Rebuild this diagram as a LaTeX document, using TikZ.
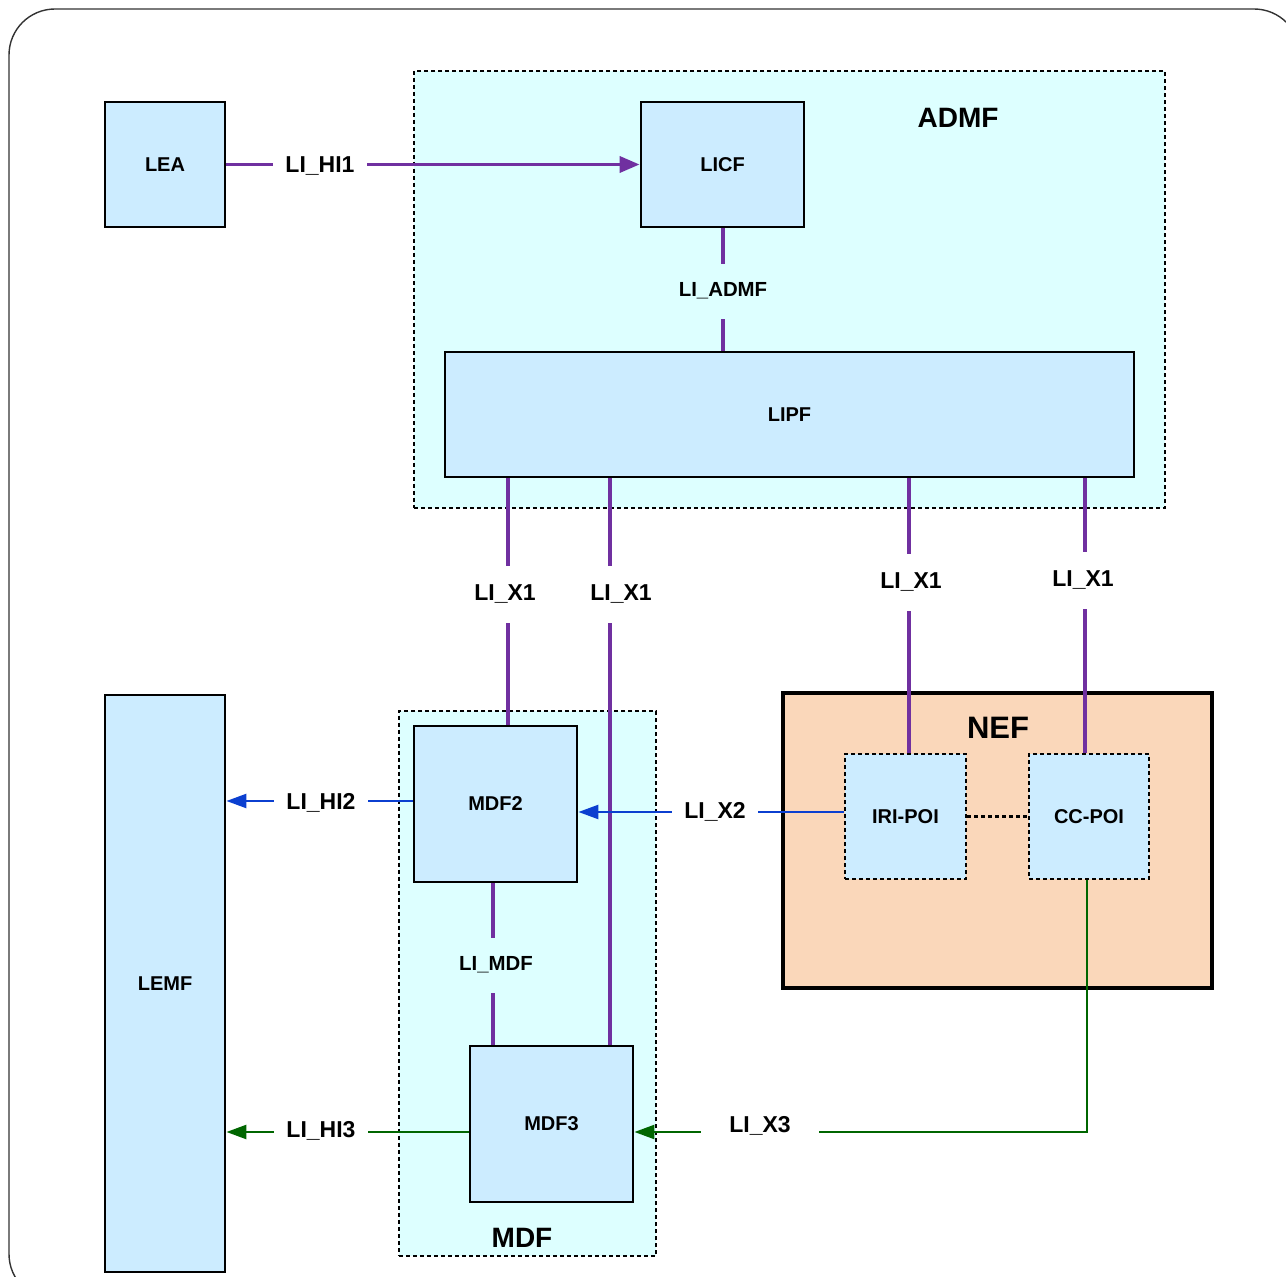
\documentclass[tikz,border=0pt]{standalone}
\usepackage{fontspec}
\setmainfont{Liberation Sans}
\usetikzlibrary{arrows.meta}
\definecolor{boxfill}{HTML}{CCECFF}
\definecolor{contfill}{HTML}{DDFFFF}
\definecolor{neffill}{HTML}{FAD7BA}
\definecolor{lipurple}{HTML}{7030A0}
\definecolor{liblue}{HTML}{0B3FD0}
\definecolor{ligreen}{HTML}{006600}
\tikzset{
  fbox/.style={draw=black, line width=1.4pt, fill=boxfill, font=\fontsize{10}{12}\selectfont\bfseries, inner sep=0pt},
  poibox/.style={draw=black, line width=1.2pt, dash pattern=on 2pt off 1.5pt, fill=boxfill, font=\fontsize{10}{12}\selectfont\bfseries, inner sep=0pt},
  container/.style={draw=black, line width=1.2pt, dash pattern=on 2pt off 1.5pt, fill=contfill, inner sep=0pt},
  ctitle/.style={font=\fontsize{14}{16}\selectfont\bfseries, inner sep=0pt},
  lbl/.style={fill=white, inner xsep=6pt, inner ysep=9pt, text height=8.3pt, text depth=2.4pt, yshift=-1.2pt, font=\fontsize{11.5}{13}\selectfont\bfseries},
  slbl/.style={lbl, fill=contfill, text height=7.2pt, text depth=2.1pt, font=\fontsize{10.2}{12}\selectfont\bfseries},
  pl/.style={draw=lipurple, line width=1.8pt},
  bl/.style={draw=liblue, line width=1.2pt},
  gl/.style={draw=ligreen, line width=1.2pt},
  ptip/.style={-{Triangle[length=10pt,width=8pt]}},
  btip/.style={-{Triangle[length=10pt,width=7pt]}},
}
\begin{document}
\begin{tikzpicture}[x=0.5pt,y=-0.5pt]
\useasboundingbox (0,0) rectangle (1286,1277);
\clip (0,0) rectangle (1286,1277);
% outer frame
\draw[draw=black!80, line width=0.7pt, rounded corners=23pt] (9,9) rectangle (1300,1300);

% containers
\node[container, minimum width=375.5pt, minimum height=218.5pt] (admf) at (789.5,289.5) {};
\node[ctitle] (admft) at (958,118) {ADMF};
\node[container, minimum width=128.5pt, minimum height=272.5pt] (mdf) at (527.5,983.5) {};
\node[ctitle] (mdft) at (522,1238) {MDF};
\node[draw=black, line width=2.2pt, fill=neffill, minimum width=214.5pt, minimum height=147.5pt, inner sep=0pt] (nef) at (997.5,840.5) {};
\node[font=\fontsize{15.5}{17}\selectfont\bfseries, inner sep=0pt] (neft) at (998,728) {NEF};

% function boxes
\node[fbox, minimum width=60pt, minimum height=62.5pt] (lea) at (165,164.5) {LEA};
\node[fbox, minimum width=81.5pt, minimum height=62.5pt] (licf) at (722.5,164.5) {LICF};
\node[fbox, minimum width=344.5pt, minimum height=62.5pt] (lipf) at (789.5,414.5) {LIPF};
\node[fbox, minimum width=60pt, minimum height=288.5pt] (lemf) at (165,983.5) {LEMF};
\node[fbox, minimum width=81.5pt, minimum height=78pt] (mdf2) at (495.5,804) {MDF2};
\node[fbox, minimum width=81.5pt, minimum height=78pt] (mdf3) at (551.5,1124) {MDF3};
\node[poibox, minimum width=60.5pt, minimum height=62.5pt] (iri) at (905.5,816.5) {IRI-POI};
\node[poibox, minimum width=60pt, minimum height=62.5pt] (cc) at (1089,816.5) {CC-POI};

% helper coordinates
\coordinate (xa) at (508,0);
\coordinate (xb) at (610,0);
\coordinate (xc) at (909,0);
\coordinate (xd) at (1085,0);
\coordinate (xm) at (493,0);
\coordinate (xadmf) at (723,0);
\coordinate (xcc) at (1087,0);
\coordinate (yhi2) at (0,801);
\coordinate (yx2) at (0,812);
\coordinate (yx3) at (0,1132);

% connectors
\draw[pl, ptip] (lea) -- (licf);
\draw[pl] (licf.south -| xadmf) -- (lipf.north -| xadmf);
\draw[pl] (lipf.south -| xa) -- (mdf2.north -| xa);
\draw[pl] (lipf.south -| xb) -- (mdf3.north -| xb);
\draw[pl] (lipf.south -| xc) -- (iri.north -| xc);
\draw[pl] (lipf.south -| xd) -- (cc.north -| xd);
\draw[pl] (mdf2.south -| xm) -- (mdf3.north -| xm);
\draw[bl, btip] (mdf2.west |- yhi2) -- (lemf.east |- yhi2);
\draw[bl, btip] (iri.west |- yx2) -- (mdf2.east |- yx2);
\draw[gl, btip] (mdf3.west |- yx3) -- (lemf.east |- yx3);
\draw[gl, btip] (cc.south -| xcc) |- (mdf3.east |- yx3);
\draw[black, line width=1.2pt, dash pattern=on 2pt off 1.5pt] (iri) -- (cc);

% labels
\node[lbl] (lhi1) at (320,164) {LI\_HI1};
\node[slbl] (ladmf) at (723,289) {LI\_ADMF};
\node[lbl] (lx1a) at (505,592) {LI\_X1};
\node[lbl] (lx1b) at (621,592) {LI\_X1};
\node[lbl] (lx1c) at (911,580) {LI\_X1};
\node[lbl] (lx1d) at (1083,578) {LI\_X1};
\node[lbl] (lhi2) at (321,801) {LI\_HI2};
\node[lbl] (lx2) at (715,810) {LI\_X2};
\node[slbl] (lmdf) at (496,963) {LI\_MDF};
\node[lbl] (lhi3) at (321,1129) {LI\_HI3};
\node[lbl, inner xsep=14pt] (lx3) at (760,1124) {LI\_X3};
\end{tikzpicture}
\end{document}
